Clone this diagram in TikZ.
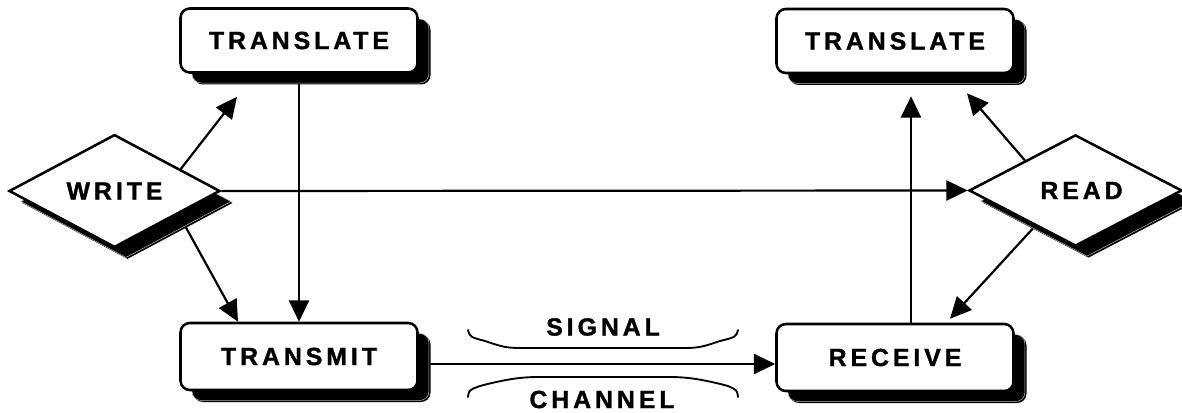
\documentclass[tikz,border=0pt]{standalone}
\usepackage{fontspec}
\newfontfamily\lblfamily{Liberation Sans}[LetterSpace=16, FakeBold=1.3]
\usetikzlibrary{arrows.meta,shapes.geometric,shadows,calc}
\pgfdeclarelayer{bg}
\pgfsetlayers{bg,main}

\tikzset{
  lbl/.style={font=\lblfamily\bfseries\fontsize{18.6}{20}\selectfont},
  twoshadow/.style={
    general shadow={shadow xshift=9.75pt, shadow yshift=-9pt, fill=black, draw=none},
    general shadow={shadow xshift=8.6pt, shadow yshift=-7.9pt, fill=black, draw=black!30, line width=0.4pt}},
  box/.style={lbl, twoshadow, rectangle, rounded corners=7pt, draw, line width=1.9pt,
    fill=white, minimum width=177.75pt, inner sep=0pt},
  dia/.style={lbl, twoshadow, diamond, draw, line width=1.9pt, fill=white,
    minimum width=158.25pt, minimum height=71.25pt, inner sep=0pt},
  conn/.style={line width=1.65pt, -{Triangle[length=16pt,width=15pt]}},
  bracket/.style={line width=1.4pt, line cap=round},
}

\begin{document}
\begin{tikzpicture}[x=0.75pt,y=-0.75pt]
\useasboundingbox (0,0) rectangle (1182,413);

% process boxes
\node[box, minimum height=48pt]    (tl) at (299,40.5)  {TRANSLATE};
\node[box, minimum height=48pt]    (tr) at (895,41)    {TRANSLATE};
\node[box, minimum height=50.25pt] (tm) at (299,356.5) {TRANSMIT};
\node[box, minimum height=50.25pt] (rc) at (895,357.5) {RECEIVE};

% decisions
\node[dia] (w) at (114.5,191) {WRITE};
\node[dia, minimum width=159.75pt] (r) at (1075.5,190.5) {\hspace*{9pt}READ};

% channel labels
\node[lbl] (sig) at (603,327)   {SIGNAL};
\node[lbl] (chn) at (602,399.5) {CHANNEL};

% connectors behind the shapes
\begin{pgfonlayer}{bg}
\draw[conn] ($(w.north)!0.62!(w.east)$) -- ($(tl.south)+(-62,23)$);
\draw[conn] ($(w.east)!0.4!(w.south)$) -- ($(tm.north)+(-61,0)$);
\draw[conn] (tl.south) -- (tl.south |- tm.north);
\draw[conn] (w.east) -- (r.west);
\draw[conn] ($(tm.east)+(0,7.5)$) coordinate (s) -- (s -| rc.west);
\draw[conn] ($(rc.north)+(16,0)$) -- ($(tr.south)+(16,22)$);
\draw[conn] ($(r.west)!0.53!(r.north)$) -- ($(tr.south)+(72,19)$);
\draw[conn] ($(r.west)!0.625!(r.south)$) -- ($(rc.north)+(55,-4)$);
\end{pgfonlayer}

% brackets around the channel
\draw[bracket] (468,330) .. controls (470,337) .. (485,341)
  .. controls (500,346) and (505,348) .. (520,348) -- (685,348)
  .. controls (700,348) and (705,346) .. (720,341)
  .. controls (736,337) .. (738,330);
\draw[bracket] (468,397) .. controls (469,390) .. (480,386)
  .. controls (510,378) and (525,377) .. (540,377) -- (668,377)
  .. controls (683,377) and (698,378) .. (728,386)
  .. controls (737,390) .. (738,397);
\end{tikzpicture}
\end{document}
